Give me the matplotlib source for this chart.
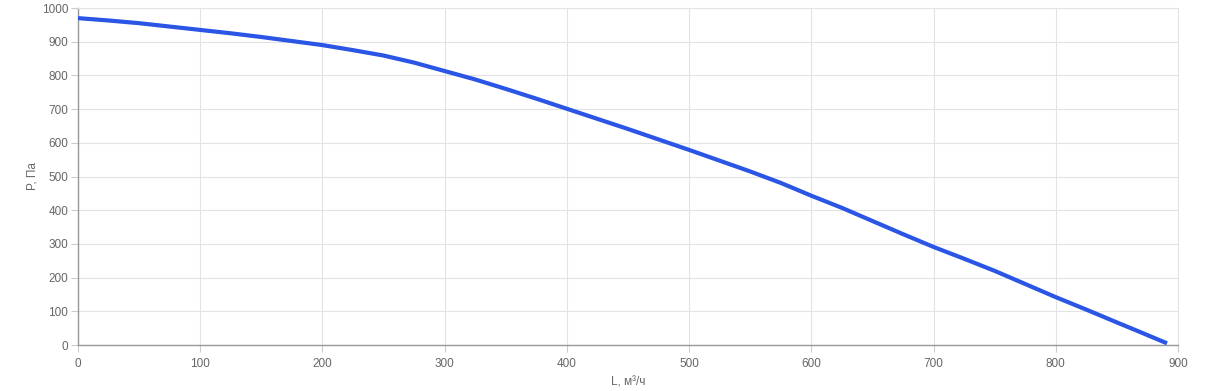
import matplotlib
matplotlib.use("Agg")
import matplotlib.pyplot as plt

# performance curve
flow = [0, 25, 50, 75, 100, 125, 150, 175, 200, 225, 250, 275, 300, 325, 350, 375, 400,
        425, 450, 475, 500, 525, 550, 575, 600, 625, 650, 675, 700, 725, 750, 775, 800,
        825, 850, 870, 891]
pressure = [970, 963, 955, 945, 935, 925, 914, 902, 890, 875, 859, 838, 813, 788, 760, 731, 701,
            671, 641, 610, 579, 547, 515, 481, 443, 407, 368, 329, 291, 256, 220, 181, 142,
            105, 67, 37, 5]

x_ticks = [0, 100, 200, 300, 400, 500, 600, 700, 800, 900]
y_ticks = [0, 100, 200, 300, 400, 500, 600, 700, 800, 900, 1000]

plt.rcParams['font.family'] = ['Liberation Sans', 'DejaVu Sans']

fig = plt.figure(figsize=(12.2, 3.91), dpi=100)
ax = fig.add_axes([0.0639, 0.1176, 0.9017, 0.8619])

ax.plot(flow, pressure, color='#2a55e5', lw=3, solid_capstyle='butt', solid_joinstyle='round', zorder=3)

ax.set_xlim(0, 900)
ax.set_ylim(0, 1000)
ax.set_xticks(x_ticks)
ax.set_yticks(y_ticks)
ax.grid(color='#e3e3e3', lw=0.8)
ax.set_axisbelow(True)

for s in ['top', 'right']:
    ax.spines[s].set_color('#e3e3e3')
    ax.spines[s].set_linewidth(0.8)
for s in ['left', 'bottom']:
    ax.spines[s].set_color('#999999')
    ax.spines[s].set_linewidth(1)

ax.tick_params(axis='both', colors='#cccccc', labelcolor='#666666', labelsize=8.5, length=5, width=0.8)
ax.tick_params(axis='x', pad=4)
ax.tick_params(axis='y', pad=2)

ax.set_xlabel('L, м³/ч', color='#666666', fontsize=8.5, labelpad=5)
ax.set_ylabel('P, Па', color='#666666', fontsize=8.5, labelpad=2)

fig.savefig('out.png', dpi=100)
